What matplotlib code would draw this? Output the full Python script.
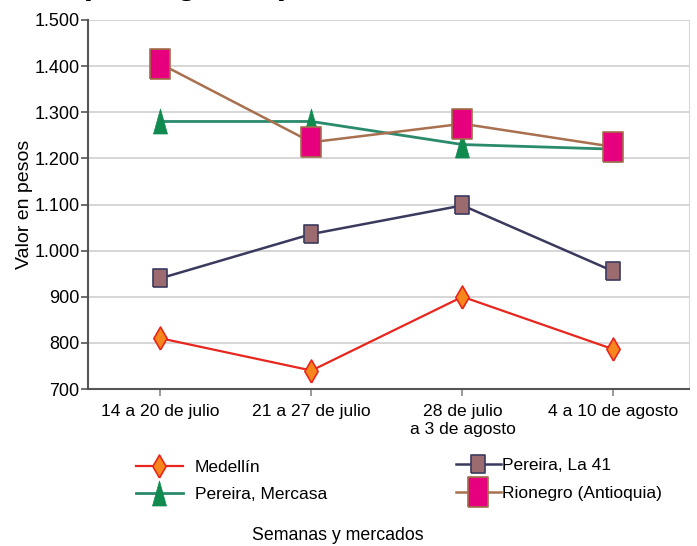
import numpy as np
import matplotlib
matplotlib.use("Agg")
import matplotlib.pyplot as plt
from matplotlib.lines import Line2D

plt.rcParams['font.family'] = ['Liberation Sans', 'DejaVu Sans']

# datos
semanas = ["14 a 20 de julio", "21 a 27 de julio", "28 de julio\na 3 de agosto", "4 a 10 de agosto"]
medellin = [810, 740, 900, 786]
pereira_41 = [940, 1036, 1098, 955]
pereira_mercasa = [1280, 1280, 1230, 1220]
rionegro = [1405, 1235, 1275, 1225]
y_ticks = [700, 800, 900, 1000, 1100, 1200, 1300, 1400, 1500]
y_labels = ["700", "800", "900", "1.000", "1.100", "1.200", "1.300", "1.400", "1.500"]

# marcadores "estirados" como en la imagen original
diamante = [(0, -1), (0.58, 0), (0, 1), (-0.58, 0), (0, -1)]
triangulo = [(-0.56, -1), (0.56, -1), (0, 1), (-0.56, -1)]
cuadro_41 = [(-0.78, -1), (0.78, -1), (0.78, 1), (-0.78, 1), (-0.78, -1)]
cuadro_rio = [(-0.68, -1), (0.68, -1), (0.68, 1), (-0.68, 1), (-0.68, -1)]

estilo_med = dict(color='#e8261e', lw=1.6, marker=diamante, ms=16.5,
                  mfc='#f7861c', mec='#e8261e', mew=1.2)
estilo_mer = dict(color='#2a8a6c', lw=2, marker=triangulo, ms=18,
                  mfc='#118a4f', mec='#118a4f', mew=0.5)
estilo_41 = dict(color='#3b3a5e', lw=1.8, marker=cuadro_41, ms=12.5,
                 mfc='#9c6b70', mec='#3b3a5e', mew=1.2)
estilo_rio = dict(color='#a8704f', lw=1.8, marker=cuadro_rio, ms=21,
                  mfc='#e6007e', mec='#a0704a', mew=1.2)

fig = plt.figure(figsize=(6.97, 5.46), dpi=100)
ax = fig.add_axes([88/697, 1-389/546, (689-88)/697, (389-20)/546])
x = np.arange(len(semanas))

ax.plot(x, medellin, zorder=3, **estilo_med)
ax.plot(x, pereira_mercasa, zorder=3, **estilo_mer)
ax.plot(x, pereira_41, zorder=4, **estilo_41)
ax.plot(x, rionegro, zorder=5, **estilo_rio)

ax.set_xlim(-0.48, 3.5)
ax.set_ylim(700, 1500)
ax.set_yticks(y_ticks)
ax.set_yticklabels(y_labels, fontsize=13)
ax.set_xticks(x)
ax.set_xticklabels(semanas, fontsize=12.6)
ax.tick_params(axis='y', length=5, width=1.2, color='#555555', pad=1)
ax.tick_params(axis='x', length=5, width=1.2, color='#888888', pad=6)
ax.grid(axis='y', color='#d0d0d0', lw=1.2)
ax.set_axisbelow(True)
for s in ['left', 'bottom']:
    ax.spines[s].set_color('#555555')
    ax.spines[s].set_linewidth(1.5)
ax.spines['top'].set_visible(False)
ax.spines['right'].set_color('#d8d8d8')

ax.set_ylabel("Valor en pesos", fontsize=14, labelpad=1)

# leyenda en dos columnas
h_med = Line2D([], [], **estilo_med)
h_mer = Line2D([], [], **estilo_mer)
h_41 = Line2D([], [], **estilo_41)
h_rio = Line2D([], [], **estilo_rio)

fig.legend([h_med, h_mer], ["Medellín", "Pereira, Mercasa"],
           loc='upper left', bbox_to_anchor=(120/697, 1-444/546),
           frameon=False, fontsize=12.5, handlelength=2.75,
           handletextpad=0.65, labelspacing=0.7)
fig.legend([h_41, h_rio], ["Pereira, La 41", "Rionegro (Antioquia)"],
           loc='upper left', bbox_to_anchor=(440/697, 1-442/546),
           frameon=False, fontsize=12.5, handlelength=2.6,
           handletextpad=0.1, labelspacing=0.75)

fig.text(338/697, 1-536/546, "Semanas y mercados", fontsize=12.8,
         ha='center', va='center')
# titulo cortado en la parte superior
fig.text(185/697, 1+6/546, "(1 kilogramo)", fontsize=24, fontweight='bold',
         ha='center', va='baseline')

fig.savefig("out.png", dpi=100)
